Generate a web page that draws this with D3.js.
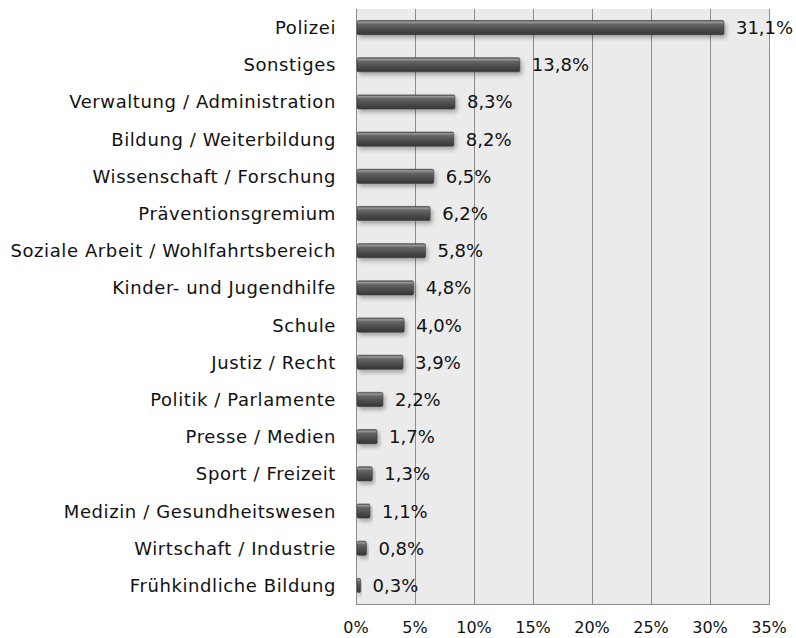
<!DOCTYPE html>
<html>
<head>
<meta charset="utf-8">
<script src="https://cdn.jsdelivr.net/npm/d3@7"></script>
<style>
  body { margin: 0; background: #fff; }
  svg text { font-family: "DejaVu Sans", Verdana, sans-serif; fill: #111; }
</style>
</head>
<body>
<div id="chart"></div>
<script>
const categories = [
  "Polizei", "Sonstiges", "Verwaltung / Administration", "Bildung / Weiterbildung",
  "Wissenschaft / Forschung", "Präventionsgremium", "Soziale Arbeit / Wohlfahrtsbereich",
  "Kinder- und Jugendhilfe", "Schule", "Justiz / Recht", "Politik / Parlamente",
  "Presse / Medien", "Sport / Freizeit", "Medizin / Gesundheitswesen",
  "Wirtschaft / Industrie", "Frühkindliche Bildung"
];
const values = [31.1, 13.8, 8.3, 8.2, 6.5, 6.2, 5.8, 4.8, 4.0, 3.9, 2.2, 1.7, 1.3, 1.1, 0.8, 0.3];
const ticks = [0, 5, 10, 15, 20, 25, 30, 35];

const width = 796, height = 638;
const margin = { top: 9, right: 27, bottom: 34, left: 356 };

const svg = d3.select("#chart").append("svg")
  .attr("width", width)
  .attr("height", height);

const defs = svg.append("defs");
const grad = defs.append("linearGradient")
  .attr("id", "barGrad")
  .attr("x1", 0).attr("y1", 0).attr("x2", 0).attr("y2", 1);
grad.append("stop").attr("offset", "0%").attr("stop-color", "#5a5a5a");
grad.append("stop").attr("offset", "12%").attr("stop-color", "#9a9a9a");
grad.append("stop").attr("offset", "25%").attr("stop-color", "#676767");
grad.append("stop").attr("offset", "60%").attr("stop-color", "#4e4e4e");
grad.append("stop").attr("offset", "100%").attr("stop-color", "#353535");

const shadow = defs.append("filter").attr("id", "shadow")
  .attr("x", "-10%").attr("y", "-30%").attr("width", "130%").attr("height", "180%");
shadow.append("feDropShadow")
  .attr("dx", 2).attr("dy", 3).attr("stdDeviation", 2)
  .attr("flood-color", "#000").attr("flood-opacity", 0.3);

const x = d3.scaleLinear().domain([0, 35]).range([margin.left, width - margin.right]);
const y = d3.scaleBand().domain(categories)
  .range([margin.top, height - margin.bottom])
  .paddingInner(0.62).paddingOuter(0.31);

// plot background
svg.append("rect")
  .attr("x", x(0)).attr("y", margin.top)
  .attr("width", x(35) - x(0)).attr("height", height - margin.bottom - margin.top)
  .attr("fill", "#ebebeb");

// vertical grid
svg.append("g")
  .selectAll("line")
  .data(ticks)
  .join("line")
  .attr("x1", d => x(d) + 0.5).attr("x2", d => x(d) + 0.5)
  .attr("y1", margin.top).attr("y2", height - margin.bottom)
  .attr("stroke", "#8c8c8c").attr("stroke-width", 1);

// bottom line
svg.append("line")
  .attr("x1", x(0)).attr("x2", x(35) + 1)
  .attr("y1", height - margin.bottom + 0.5).attr("y2", height - margin.bottom + 0.5)
  .attr("stroke", "#8c8c8c");

// x tick labels
svg.append("g")
  .selectAll("text")
  .data(ticks)
  .join("text")
  .attr("x", d => x(d))
  .attr("y", 633)
  .attr("text-anchor", "middle")
  .attr("font-size", 16)
  .text(d => d + "%");

// bars
svg.append("g")
  .selectAll("rect")
  .data(values)
  .join("rect")
  .attr("x", x(0) + 1)
  .attr("y", (d, i) => y(categories[i]))
  .attr("width", d => x(d) - x(0))
  .attr("height", y.bandwidth())
  .attr("rx", 1.5)
  .attr("fill", "url(#barGrad)")
  .attr("stroke", "#3a3a3a")
  .attr("stroke-width", 0.6)
  .attr("filter", "url(#shadow)");

// value labels
svg.append("g")
  .selectAll("text")
  .data(values)
  .join("text")
  .attr("x", d => x(d) + 13)
  .attr("y", (d, i) => y(categories[i]) + y.bandwidth() / 2)
  .attr("dy", "0.36em")
  .attr("font-size", 18)
  .text(d => d.toFixed(1).replace(".", ",") + "%");

// category labels
svg.append("g")
  .selectAll("text")
  .data(categories)
  .join("text")
  .attr("x", 336)
  .attr("y", d => y(d) + y.bandwidth() / 2)
  .attr("dy", "0.36em")
  .attr("text-anchor", "end")
  .attr("font-size", 18)
  .attr("letter-spacing", 0.6)
  .text(d => d);
</script>
</body>
</html>
